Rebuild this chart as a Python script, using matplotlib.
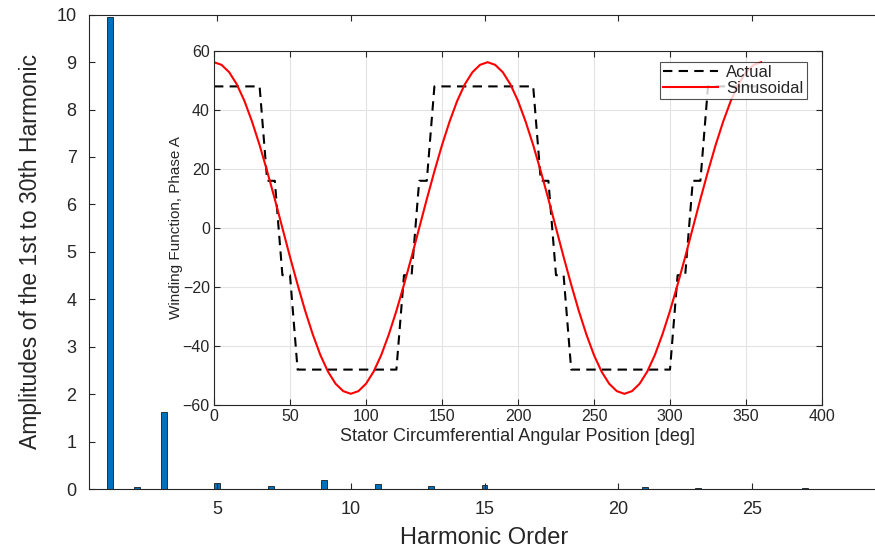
import matplotlib
matplotlib.use("Agg")
import matplotlib.pyplot as plt
from matplotlib import font_manager as fm

# ---------------- data ----------------
harmonic_order = list(range(1, 30))
harmonic_amp = [9.96, 0.035, 1.63, 0.005, 0.12, 0.005, 0.06, 0.005, 0.19, 0.003,
                0.105, 0.005, 0.07, 0.005, 0.08, 0.005, 0.005, 0.005, 0.005, 0.003,
                0.04, 0.005, 0.03, 0.005, 0.01, 0.005, 0.03, 0.005, 0.005]

actual_deg = [0, 30, 35, 40, 45, 50, 55, 120, 125, 130, 135, 140, 145,
              210, 215, 220, 225, 230, 235, 300, 305, 310, 315, 320, 325, 360]
actual_val = [48, 48, 16, 16, -16, -16, -48, -48, -16, -16, 16, 16, 48,
              48, 16, 16, -16, -16, -48, -48, -16, -16, 16, 16, 48, 48]

sine_deg = list(range(0, 361, 5))
sine_half = [56.2, 55.3, 52.8, 48.7, 43.1, 36.1, 28.1, 19.2, 9.8, 0.0,
             -9.8, -19.2, -28.1, -36.1, -43.1, -48.7, -52.8, -55.3, -56.2,
             -55.3, -52.8, -48.7, -43.1, -36.1, -28.1, -19.2, -9.8, 0.0,
             9.8, 19.2, 28.1, 36.1, 43.1, 48.7, 52.8, 55.3]
sine_val = sine_half + sine_half + [56.2]

main_xticks = [5, 10, 15, 20, 25]
main_yticks = list(range(0, 11))
inset_xticks = list(range(0, 401, 50))
inset_yticks = list(range(-60, 61, 20))

# ---------------- fonts ----------------
def have(name):
    try:
        fm.findfont(fm.FontProperties(family=name), fallback_to_default=False)
        return True
    except Exception:
        return False

sans = "Liberation Sans" if have("Liberation Sans") else "DejaVu Sans"
narrow = "Liberation Sans Narrow" if have("Liberation Sans Narrow") else sans
plt.rcParams['font.family'] = [sans, 'DejaVu Sans']

TXT = "#262626"
SPINE = "#262626"

fig = plt.figure(figsize=(8.75, 5.5), dpi=100)

# ---------------- main axes ----------------
ax = fig.add_axes([89 / 875, 61 / 550, (880 - 89) / 875, 474.3 / 550])
ax.bar(harmonic_order, harmonic_amp, width=0.22, color="#0072BD",
       edgecolor="#1a1a1a", linewidth=0.6)
ax.set_xlim(0.2, 29.8)
ax.set_ylim(0, 10)
ax.set_xticks(main_xticks)
ax.set_yticks(main_yticks)
ax.tick_params(direction="in", length=4, width=0.8, colors=SPINE,
               labelcolor=TXT, labelsize=13, top=True, right=False, pad=9)
for s in ax.spines.values():
    s.set_color(SPINE)
    s.set_linewidth(0.8)
ax.set_xlabel("Harmonic Order", fontsize=17, color=TXT, labelpad=6)
ax.set_ylabel("Amplitudes of the 1st to 30th Harmonic", fontsize=16.5,
              color=TXT, family=[narrow, 'DejaVu Sans'], labelpad=10)

# ---------------- inset axes ----------------
ins = fig.add_axes([214 / 875, (550 - 405) / 550, 608 / 875, 354 / 550])
ins.plot(actual_deg, actual_val, color="black", linestyle=(0, (4.5, 3)),
         linewidth=1.5, label="Actual")
ins.plot(sine_deg, sine_val, color="#FF0000", linewidth=1.5, label="Sinusoidal")
ins.set_xlim(0, 400)
ins.set_ylim(-60, 60)
ins.set_xticks(inset_xticks)
ins.set_yticks(inset_yticks)
ins.grid(True, color="#e3e3e3", linewidth=0.8)
ins.set_axisbelow(True)
ins.tick_params(direction="in", length=4, width=0.8, colors=SPINE,
                labelcolor=TXT, labelsize=11.5, top=True, right=True, pad=3)
for s in ins.spines.values():
    s.set_color(SPINE)
    s.set_linewidth(0.8)
ins.set_xlabel("Stator Circumferential Angular Position [deg]", fontsize=13,
               color=TXT, labelpad=3)
ins.set_ylabel("Winding Function, Phase A", fontsize=11, color=TXT,
               family=[narrow, 'DejaVu Sans'], labelpad=0)
leg = ins.legend(loc="upper right", bbox_to_anchor=(0.975, 0.969),
                 fontsize=12, frameon=True, fancybox=False,
                 handlelength=3.3, borderaxespad=0.0, borderpad=0.2,
                 labelspacing=0.05, handletextpad=0.5)
leg.get_frame().set_edgecolor("#262626")
leg.get_frame().set_linewidth(0.8)
for t in leg.get_texts():
    t.set_color(TXT)

fig.savefig("out.png", dpi=100)
